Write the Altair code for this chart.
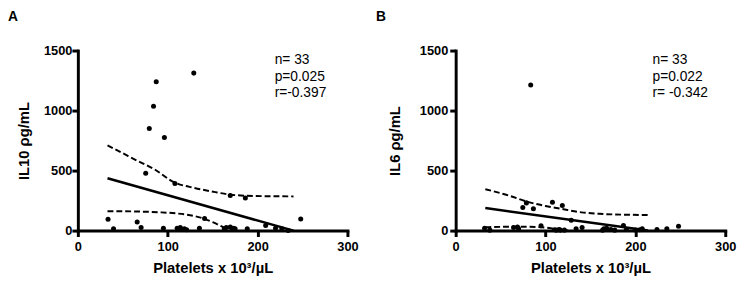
import altair as alt
import pandas as pd

# ---- data ----
a_x = [33.6, 39.7, 66, 70.4, 75.5, 79.5, 84.2, 87.2, 95.2, 96.3, 108, 110.5, 114, 116, 118.5, 121, 129,
       135.3, 141, 163, 165.2, 169.6, 169.6, 172, 173.2, 175, 186.4, 188.5, 209, 220, 227, 234, 248]
a_y = [94, 15, 72, 26, 477, 850, 1036, 1241, 20, 776, 392, 20, 26, 10, 15, 8, 1312,
       20, 100, 15, 26, 31, 293, 10, 20, 15, 272, 15, 43, 20, 15, 0, 97]

b_x = [32.2, 38, 64.4, 68.8, 70, 74.7, 78.7, 83.5, 86.5, 95, 107.7, 110, 112, 115, 116.5, 118.7, 121,
       128.6, 134, 140.7, 163.5, 165, 168, 172.7, 177, 186.7, 190, 200, 205, 207.6, 224, 235, 248]
b_y = [20, 4, 26, 31, 15, 192, 231, 1214, 182, 40, 236, 8, 4, 10, 4, 209, 4,
       86, 15, 26, 4, 15, 20, 10, 4, 43, 10, 5, 8, 15, 10, 15, 37]

a_fit_x = [33, 240]
a_fit_y = [436, 0]
a_up_x = [33, 50, 63, 85, 107, 130, 155, 170, 198, 240]
a_up_y = [710, 645, 594, 512, 403, 355, 318, 299, 288, 285]
a_lo_x = [33, 60, 90, 110, 125, 140, 150, 160, 168]
a_lo_y = [162, 160, 153, 143, 128, 100, 70, 35, 0]

b_fit_x = [33, 214]
b_fit_y = [188, 0]
b_up_x = [33, 60, 80, 100, 116, 140, 160, 185, 215]
b_up_y = [345, 290, 240, 205, 184, 152, 140, 133, 130]
b_lo_x = [33, 70, 95, 110, 125]
b_lo_y = [28, 33, 28, 15, 0]

a_stats = ["n= 33", "p=0.025", "r=-0.397"]
b_stats = ["n= 33", "p=0.022", "r= -0.342"]
stat_x = [219, 219, 219]
stat_y = [1388, 1249, 1110]

x_ticks = [0, 100, 200, 300]
y_ticks = [0, 500, 1000, 1500]

FONT = "Liberation Sans"


def panel(label, ytitle, px, py, fx, fy, ux, uy, lx, ly, stats, label_pad, title_pad, label_dx):
    X = alt.X("x:Q", scale=alt.Scale(domain=[0, 300], nice=False),
              axis=alt.Axis(values=x_ticks, title="Platelets x 10³/µL", labelPadding=4,
                            titlePadding=8, labelFlush=False, format="d"))
    Y = alt.Y("y:Q", scale=alt.Scale(domain=[0, 1500], nice=False),
              axis=alt.Axis(values=y_ticks, title=ytitle, labelPadding=label_pad,
                            titlePadding=title_pad, format="d"))
    pts = alt.Chart(pd.DataFrame({"x": px, "y": py})).mark_circle(
        size=26, color="black", opacity=1).encode(x=X, y=Y)
    fit = alt.Chart(pd.DataFrame({"x": fx, "y": fy})).mark_line(
        color="black", strokeWidth=2.6).encode(x=X, y=Y)
    band_df = pd.DataFrame({
        "x": ux + lx,
        "y": uy + ly,
        "s": ["upper"] * len(ux) + ["lower"] * len(lx),
    })
    band = alt.Chart(band_df).mark_line(
        color="black", strokeWidth=2, strokeDash=[6, 3], interpolate="monotone"
    ).encode(x=X, y=Y, detail="s:N")
    txt = alt.Chart(pd.DataFrame({"x": stat_x, "y": stat_y, "t": stats})).mark_text(
        align="left", baseline="alphabetic", font=FONT, fontSize=14, color="black"
    ).encode(x=X, y=Y, text="t:N")
    lab = alt.Chart(pd.DataFrame({"t": [label]})).mark_text(
        align="left", baseline="top", font=FONT, fontSize=14, fontWeight="bold", color="black"
    ).encode(x=alt.value(label_dx), y=alt.value(-41), text="t:N")
    return alt.layer(band, fit, pts, txt, lab).properties(width=274, height=183)


pa = panel("A", "IL10 ρg/mL", a_x, a_y, a_fit_x, a_fit_y, a_up_x, a_up_y, a_lo_x, a_lo_y,
           a_stats, 0, 12, -71)
pb = panel("B", "IL6 ρg/mL", b_x, b_y, b_fit_x, b_fit_y, b_up_x, b_up_y, b_lo_x, b_lo_y,
           b_stats, 2, 17, -81)

chart = alt.hconcat(pa, pb, spacing=18).properties(
    padding={"left": 0, "top": 0, "right": 5, "bottom": 5}
).configure_view(strokeWidth=0).configure_axis(
    grid=False,
    domainColor="black", domainWidth=3, domainCap="square",
    tickColor="black", tickWidth=3, tickSize=6,
    labelFont=FONT, labelFontSize=13, labelFontWeight="bold", labelColor="black",
    titleFont=FONT, titleFontSize=15, titleFontWeight="bold", titleColor="black",
)

chart.save("out.html", embed_options={"renderer": "svg", "actions": False})
